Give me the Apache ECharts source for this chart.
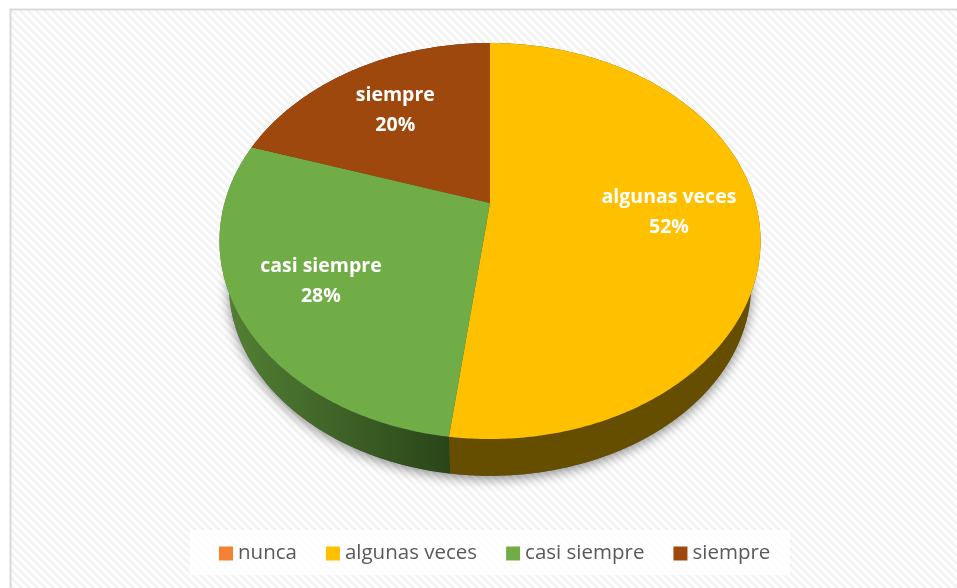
<!DOCTYPE html>
<html><head><meta charset="utf-8">
<style>html,body{margin:0;padding:0;background:#fff}#c{width:957px;height:588px}</style>
<script src="https://cdn.jsdelivr.net/npm/echarts@6/dist/echarts.min.js"></script>
</head><body><div id="c"></div>
<script>
const categories = ['nunca', 'algunas veces', 'casi siempre', 'siempre'];
const values = [0, 52, 28, 20];
const colors = ['#F58233', '#FFC000', '#70AD47', '#9E480E'];

const apex = [490, 203], ax = 265.5, ay = 190.7, persp = 0.192;
const floorScale = 0.965, floorDrop = 45;
const labelR = [0.67, 0.67, 0.70, 0.67];
const labelDy = 1;
const total = values.reduce((a, b) => a + b, 0);

function proj(theta, r) {
  const X = Math.sin(theta) * r, Y = Math.cos(theta) * r, w = 1 + persp * Y;
  return [apex[0] + ax * X / w, apex[1] - ay * Y / w];
}
function floor(p) {
  return [apex[0] + floorScale * (p[0] - apex[0]), apex[1] + floorDrop + floorScale * (p[1] - apex[1])];
}
function arc(a0, a1) {
  const n = Math.max(2, Math.ceil((a1 - a0) / 0.01)), pts = [];
  for (let i = 0; i <= n; i++) pts.push(proj(a0 + (a1 - a0) * i / n, 1));
  return pts;
}
function range(i) {
  let s = 0;
  for (let k = 0; k < i; k++) s += values[k];
  return [s / total * 2 * Math.PI, (s + values[i]) / total * 2 * Math.PI];
}
const tile = document.createElement('canvas');
tile.width = tile.height = 8;
(function () {
  const g = tile.getContext('2d');
  g.fillStyle = '#ffffff'; g.fillRect(0, 0, 8, 8);
  g.fillStyle = '#f3f3f3';
  for (let y = 0; y < 8; y++) for (let x = 0; x < 8; x++) {
    if (((x - y + 16) % 8) < 4) g.fillRect(x, y, 1, 1);
  }
})();

const wallFill = [
  null,
  '#664E00',
  { type: 'linear', x: 0, y: 0, x2: 1, y2: 0, colorStops: [{ offset: 0, color: '#548235' }, { offset: 1, color: '#2A4519' }] },
  '#5A2A08'
];

const wallSeries = {
  type: 'custom', name: 'pared', coordinateSystem: 'none', silent: true, z: 2,
  data: [0],
  renderItem: function () {
    const children = [];
    const ring = arc(0, 2 * Math.PI).map(floor);
    children.push({ type: 'polygon', shape: { points: ring }, style: { fill: '#555', shadowBlur: 12, shadowColor: 'rgba(0,0,0,0.45)', shadowOffsetY: 3 } });
    values.forEach((v, i) => {
      if (!v) return;
      const [a0, a1] = range(i);
      const top = arc(a0, a1), low = top.map(floor).reverse();
      children.push({ type: 'polygon', shape: { points: top.concat(low) }, style: { fill: wallFill[i] } });
    });
    return { type: 'group', children };
  }
};

const sliceSeries = categories.map((name, i) => ({
  type: 'custom', name, coordinateSystem: 'none', silent: true, z: 3,
  itemStyle: { color: colors[i] },
  data: [values[i]],
  renderItem: function () {
    if (!values[i]) return { type: 'group', children: [] };
    const [a0, a1] = range(i);
    const pts = [apex].concat(arc(a0, a1));
    const c = proj((a0 + a1) / 2, labelR[i]);
    return { type: 'group', children: [
      { type: 'polygon', shape: { points: pts }, style: { fill: colors[i] } },
      { type: 'text', z2: 10, style: { x: c[0], y: c[1] + labelDy, text: name + '\n' + Math.round(values[i] / total * 100) + '%',
        fill: '#fff', font: 'bold 19.5px "Open Sans"', lineHeight: 30, align: 'center', verticalAlign: 'middle' } }
    ] };
  }
}));

const chart = echarts.init(document.getElementById('c'), null, { renderer: 'canvas' });
chart.setOption({
  animation: false,
  backgroundColor: '#fff',
  graphic: [
    { type: 'rect', z: -2, silent: true, shape: { x: 10.5, y: 9.5, width: 960, height: 600 }, style: { fill: { image: tile, repeat: 'repeat' }, stroke: '#D9D9D9', lineWidth: 2 } },
    { type: 'rect', z: 0, silent: true, shape: { x: 190, y: 530, width: 600, height: 45 }, style: { fill: 'rgba(255,255,255,0.8)' } }
  ],
  legend: {
    data: categories, icon: 'rect', left: 214, top: 538, itemWidth: 14, itemHeight: 14, itemGap: 29, selectedMode: false,
    textStyle: { color: '#595959', fontFamily: 'Open Sans', fontSize: 20.5 }
  },
  series: [wallSeries].concat(sliceSeries)
});
</script></body></html>
